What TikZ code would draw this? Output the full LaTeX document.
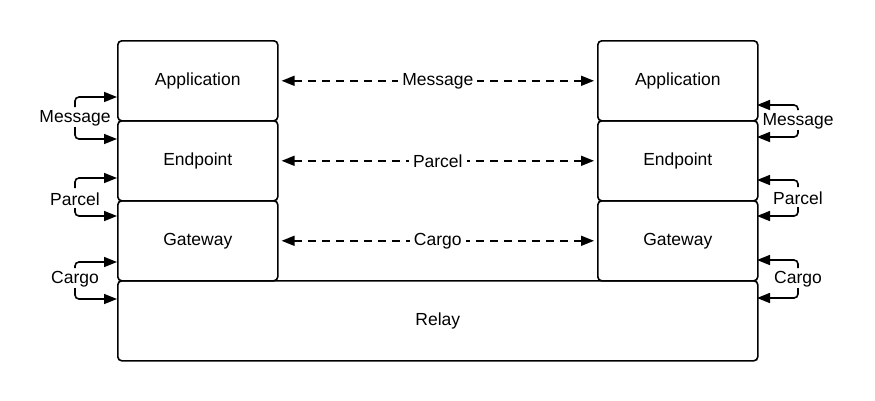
\documentclass[tikz,border=0pt]{standalone}
\usepackage{fontspec}
\setmainfont{Liberation Sans}
\usetikzlibrary{arrows.meta}
\begin{document}
\begin{tikzpicture}[x=1pt,y=-1pt,
  box/.style={draw, line width=1.6pt, rounded corners=4pt, minimum width=160pt, minimum height=80pt, inner sep=0pt, anchor=north west, font=\fontsize{17.5}{20}\selectfont},
  lbl/.style={inner sep=1pt, font=\fontsize{17.5}{20}\selectfont},
  dasharrow/.style={line width=1.6pt, dash pattern=on 8pt off 6pt, {Triangle[length=13pt,width=10pt]}-{Triangle[length=13pt,width=10pt]}, shorten <=3pt, shorten >=3pt},
  sidearrow/.style={line width=1.6pt, rounded corners=4pt, -{Triangle[length=13pt,width=10pt]}}]
\useasboundingbox (0,0) rectangle (875,400);
% boxes
\node[box] (a1) at (117,40) {Application};
\node[box] (e1) at (117,120) {Endpoint};
\node[box] (g1) at (117,200) {Gateway};
\node[box] (a2) at (597,40) {Application};
\node[box] (e2) at (597,120) {Endpoint};
\node[box] (g2) at (597,200) {Gateway};
\node[box, minimum width=640pt] (r) at (117,280) {Relay};
% dashed peer arrows
\draw[dasharrow] (a1.east) -- node[lbl, fill=white, inner xsep=4pt] {Message} (a2.west);
\draw[dasharrow] (e1.east) -- node[lbl, fill=white, inner xsep=4pt] {Parcel} (e2.west);
\draw[dasharrow] (g1.east) -- node[lbl, fill=white, inner xsep=4pt] {Cargo} (g2.west);
% left labels
\node[lbl] (lm) at (75,118) {Message};
\node[lbl] (lp) at (75,199) {Parcel};
\node[lbl] (lc) at (75,279) {Cargo};
% right labels
\node[lbl] (rm) at (798,121) {Message};
\node[lbl] (rp) at (798,198) {Parcel};
\node[lbl] (rc) at (798,279) {Cargo};
% left arrow targets
\coordinate (lm1) at (117,97);
\coordinate (lm2) at (117,139);
\coordinate (lp1) at (117,178);
\coordinate (lp2) at (117,216);
\coordinate (lc1) at (117,262);
\coordinate (lc2) at (117,299);
% right arrow targets
\coordinate (rm1) at (757,105);
\coordinate (rm2) at (757,137);
\coordinate (rp1) at (757,180);
\coordinate (rp2) at (757,216);
\coordinate (rc1) at (757,260);
\coordinate (rc2) at (757,298);
% left arrows
\draw[sidearrow] ([yshift=11pt]lm.center) |- (lm1);
\draw[sidearrow] ([yshift=-9pt]lm.center) |- (lm2);
\draw[sidearrow] ([yshift=11pt]lp.center) |- (lp1);
\draw[sidearrow] ([yshift=-9pt]lp.center) |- (lp2);
\draw[sidearrow] ([yshift=11pt]lc.center) |- (lc1);
\draw[sidearrow] ([yshift=-9pt]lc.center) |- (lc2);
% right arrows
\draw[sidearrow] ([yshift=11pt]rm.center) |- (rm1);
\draw[sidearrow] ([yshift=-9pt]rm.center) |- (rm2);
\draw[sidearrow] ([yshift=11pt]rp.center) |- (rp1);
\draw[sidearrow] ([yshift=-9pt]rp.center) |- (rp2);
\draw[sidearrow] ([yshift=11pt]rc.center) |- (rc1);
\draw[sidearrow] ([yshift=-9pt]rc.center) |- (rc2);
\end{tikzpicture}
\end{document}
